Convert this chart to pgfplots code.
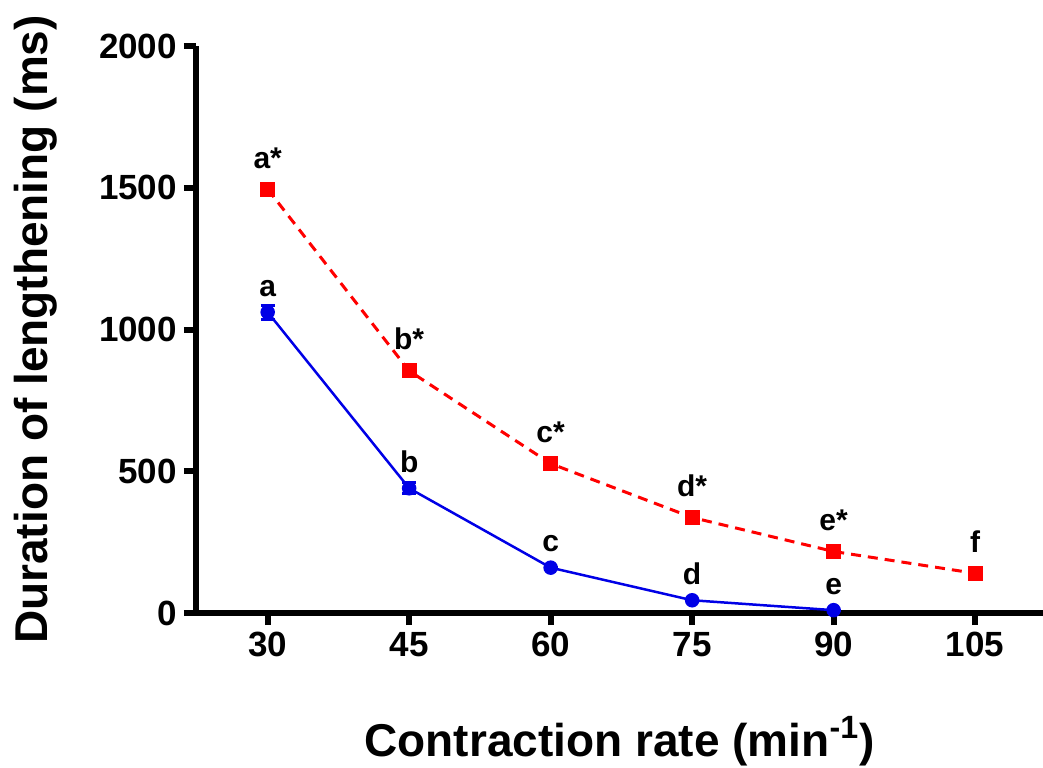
\documentclass[border=0pt]{standalone}
\usepackage{fontspec}
\setmainfont{Liberation Sans}
\usepackage{pgfplots}
\pgfplotsset{compat=1.18}
\definecolor{ptred}{RGB}{255,0,0}
\definecolor{ptblue}{RGB}{0,0,230}
\begin{document}
\begin{tikzpicture}
\useasboundingbox (-98pt,-77pt) rectangle (423.5pt,306.5pt);
\begin{axis}[
  scale only axis,
  width=423.5pt, height=283.5pt,
  xmin=22.4, xmax=112.2, ymin=0, ymax=2000,
  axis lines*=left,
  axis line style={line width=3pt},
  xtick={30,45,60,75,90,105},
  ytick={0,500,1000,1500,2000},
  tick align=outside,
  major tick length=6pt,
  every tick/.style={black, line width=3pt},
  /pgf/number format/assume math mode=true,
  /pgf/number format/set thousands separator={},
  ticklabel style={font=\fontsize{17.5}{19}\selectfont\bfseries},
  xlabel={Contraction rate (min\textsuperscript{-1})},
  ylabel={Duration of lengthening (ms)},
  label style={font=\fontsize{23}{25}\selectfont\bfseries},
  xlabel style={at={(axis description cs:0.5,0)}, anchor=center, yshift=-64pt},
  ylabel style={at={([xshift=-80pt]axis description cs:0,0.5)}, anchor=center},
  clip=false,
  nodes near coords,
  point meta=explicit symbolic,
  every node near coord/.append style={font=\fontsize{15}{17}\selectfont\bfseries, black, anchor=base},
]
% red: dashed, squares
\addplot[color=ptred, line width=1.5pt, dash pattern=on 5pt off 3.5pt,
  mark=square*, mark size=3pt, mark options={solid},
  every node near coord/.append style={yshift=10.5pt}] coordinates {
  (30,1495) [a*]
  (45,854) [b*]
  (60,527) [c*]
  (75,337) [d*]
  (90,217) [e*]
  (105,140) [f]
};
% blue: solid, circles, error bars
\addplot[color=ptblue, line width=1.25pt,
  mark=*, mark size=3pt,
  every node near coord/.append style={yshift=8pt},
  error bars/.cd, y dir=both, y explicit,
  error bar style={line width=1.5pt}, error mark options={rotate=90, mark size=3.5pt, line width=1.5pt},
  ] coordinates {
  (30,1061) +- (0,25) [a]
  (45,440) +- (0,20) [b]
  (60,160) +- (0,0) [c]
  (75,45) +- (0,0) [d]
  (90,10) +- (0,0) [e]
};
\end{axis}
\end{tikzpicture}
\end{document}
